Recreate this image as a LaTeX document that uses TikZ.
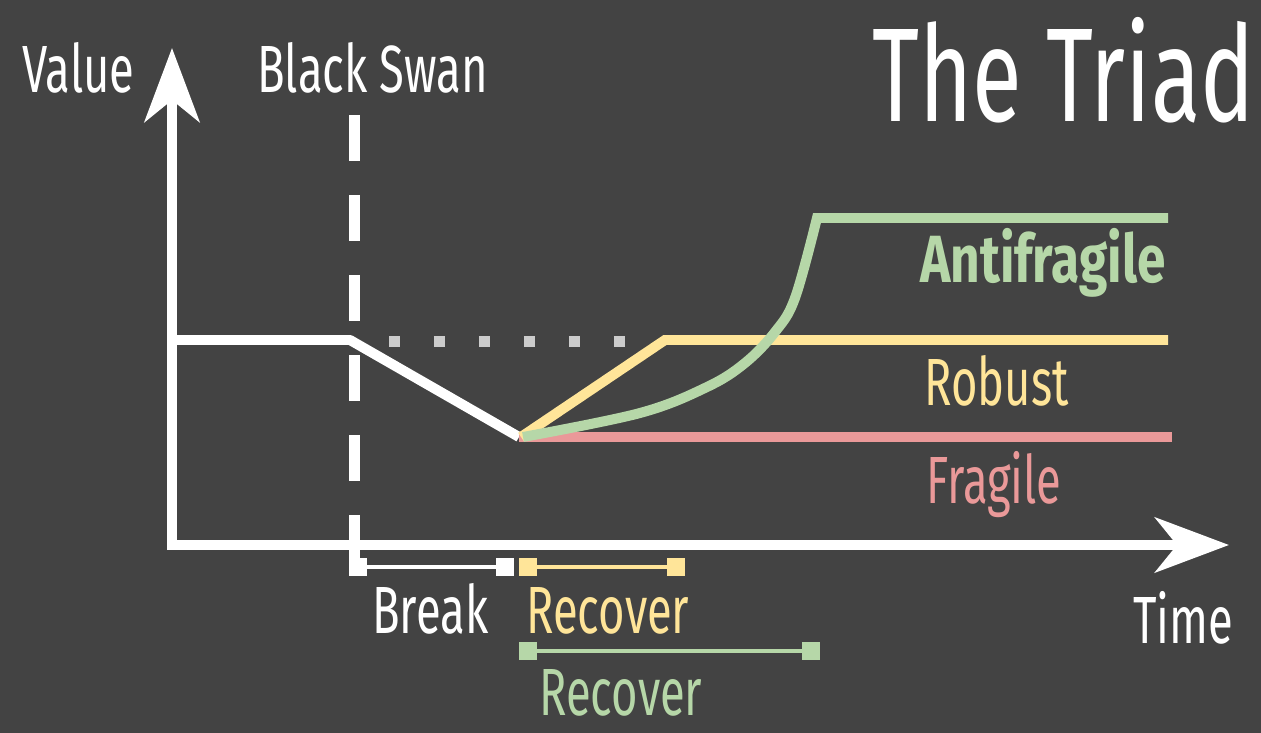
\documentclass[tikz,border=0pt]{standalone}
\usepackage{fontspec}
\setmainfont{Fira Sans}[FakeStretch=0.68]
\newfontfamily\widefont{Fira Sans}[FakeStretch=0.77]
\usetikzlibrary{arrows.meta, positioning}
\definecolor{triadbg}{HTML}{434343}
\definecolor{triadred}{HTML}{EA9999}
\definecolor{triadyellow}{HTML}{FFE599}
\definecolor{triadgreen}{HTML}{B6D7A8}
\definecolor{triadgrey}{HTML}{CCCCCC}

\begin{document}
\begin{tikzpicture}[
  x=0.02cm, y=-0.02cm,
  axis/.style={line width=0.2cm, white, miter limit=10,
    {Stealth[length=1.48cm, width=1.1cm, inset=0.44cm]}-{Stealth[length=1.48cm, width=1.1cm, inset=0.44cm]}},
  curve/.style={line width=0.2cm, #1},
  lbl/.style={anchor=base west, inner sep=0pt, text=#1, font=\fontsize{38}{40}\selectfont},
  marksq/.style={rectangle, fill=#1, inner sep=0pt, minimum size=0.36cm},
  span/.style={line width=0.08cm, #1}
]
  % background and frame
  \fill[triadbg] (0,0) rectangle (1261,733);
  \useasboundingbox (0,0) rectangle (1261,733);

  % black swan event
  \draw[white, line width=0.22cm, dash pattern=on 0.92cm off 0.68cm] (354,115) -- (354,560);
  \draw[triadgrey, line width=0.22cm, dash pattern=on 0.22cm off 0.68cm] (389,341.5) -- (630,341.5);

  % axes
  \draw[axis] (172,48) -- (172,545) -- (1229,545);

  % value paths
  \draw[curve=white, line join=round] (172,340) -- (350,340) -- (519,437);
  \draw[curve=triadred] (519,437) -- (1172,437);
  \draw[curve=triadyellow] (521,437) -- (665,340) -- (1168,340);
  \draw[curve=triadgreen] plot[smooth, tension=0.6] coordinates
    {(523,437) (640,413) (707,387) (745,363) (775,332) (795,298) (817,218)}
    -- (1168,218);

  % labels
  \node[lbl=white, font=\fontsize{76}{80}\selectfont] (title) at (872,122) {The Triad};
  \node[lbl=white] (value) at (22,93) {Value};
  \node[lbl=white] (swan) at (257,93) {Black Swan};
  \node[lbl=white] (time) at (1133,643) {Time};
  \node[lbl=triadgreen, font=\fontsize{38}{40}\widefont\bfseries] (anti) at (920,282) {Antifragile};
  \node[lbl=triadyellow] (robust) at (924,405) {Robust};
  \node[lbl=triadred] (fragile) at (926,503) {Fragile};

  % break and recover spans
  \node[marksq=white] (brk1) at (358,567) {};
  \node[marksq=white] (brk2) at (505,567) {};
  \draw[span=white] (brk1) -- (brk2);
  \node[marksq=triadyellow] (rob1) at (528,567) {};
  \node[marksq=triadyellow] (rob2) at (676,567) {};
  \draw[span=triadyellow] (rob1) -- (rob2);
  \node[marksq=triadgreen] (anti1) at (528,651) {};
  \node[marksq=triadgreen] (anti2) at (811,651) {};
  \draw[span=triadgreen] (anti1) -- (anti2);

  \node[lbl=white] (break) at (372,633) {Break};
  \node[lbl=triadyellow] (recov1) at (526,633) {Recover};
  \node[lbl=triadgreen] (recov2) at (539,715) {Recover};
\end{tikzpicture}
\end{document}
